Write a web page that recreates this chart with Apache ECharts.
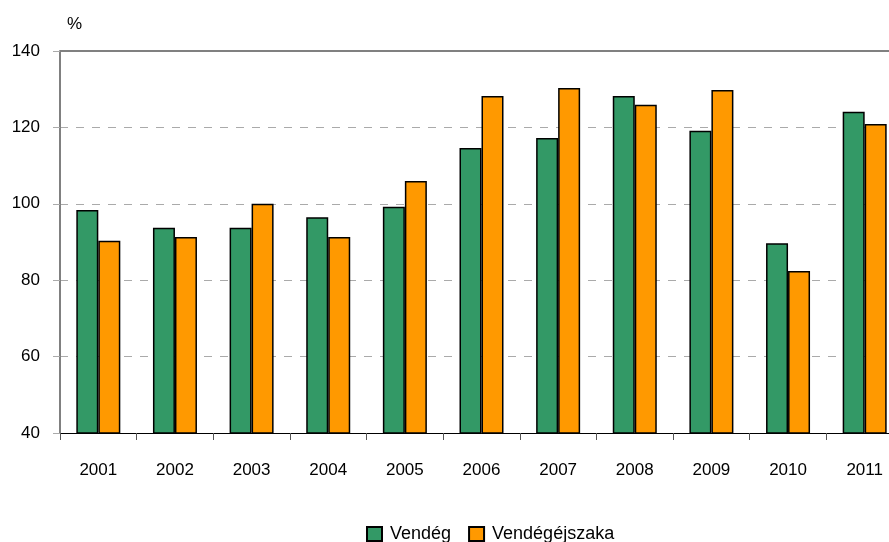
<!DOCTYPE html>
<html><head><meta charset="utf-8">
<script src="https://cdn.jsdelivr.net/npm/echarts@6/dist/echarts.min.js"></script>
<style>html,body{margin:0;padding:0;background:#fff;overflow:hidden}#c{width:903px;height:542px}</style>
</head><body><div id="c"></div>
<script>
var years = ['2001','2002','2003','2004','2005','2006','2007','2008','2009','2010','2011'];
var vendeg = [98.4, 93.7, 93.7, 96.5, 99.2, 114.6, 117.2, 128.2, 119.1, 89.7, 124.1];
var vendegejszaka = [90.3, 91.3, 100.0, 91.3, 106.0, 128.2, 130.3, 125.9, 129.8, 82.4, 120.9];
var yTicks = [40, 60, 80, 100, 120, 140];

var chart = echarts.init(document.getElementById('c'), null, {renderer:'canvas'});
var font = 'Liberation Sans, Arial, sans-serif';
chart.setOption({
  animation:false,
  grid:{left:60, top:51, right:0, bottom:109, containLabel:false},
  legend:{
    top:525, left:364, itemWidth:15, itemHeight:14, itemGap:17,
    icon:'rect', padding:[0,2],
    textStyle:{fontFamily:font, fontSize:18, color:'#000', padding:[0,0,0,3]},
    data:['Vendég','Vendégéjszaka']
  },
  xAxis:{
    type:'category', data:years,
    axisLine:{lineStyle:{color:'#000', width:1}},
    axisTick:{show:true, length:7, lineStyle:{color:'#555'}},
    axisLabel:{fontFamily:font, fontSize:17, color:'#000', margin:29}
  },
  yAxis:{
    type:'value', min:40, max:140, interval:20,
    name:'%', nameLocation:'end', nameGap:18,
    nameTextStyle:{fontFamily:font, fontSize:17, color:'#000', align:'left', padding:[0,0,0,7]},
    axisLine:{show:true, lineStyle:{color:'#808080', width:2}},
    axisTick:{show:true, length:7, lineStyle:{color:'#aaa'}},
    axisLabel:{fontFamily:font, fontSize:17, color:'#000', margin:20,
      formatter:function(v){return yTicks.indexOf(v)>=0? String(v):'';}},
    splitLine:{show:true, lineStyle:{color:'#aaa', type:[8,8], width:1}}
  },
  series:[
    {name:'Vendég', type:'bar', data:vendeg, barWidth:22, barGap:'0%',
     itemStyle:{color:'#339966', borderColor:'#000', borderWidth:1.5}},
    {name:'Vendégéjszaka', type:'bar', data:vendegejszaka, barWidth:22,
     itemStyle:{color:'#FF9900', borderColor:'#000', borderWidth:1.5},
     markLine:{silent:true, symbol:'none', label:{show:false},
       lineStyle:{color:'#808080', type:'solid', width:2}, data:[{yAxis:140}]}}
  ]
});
</script></body></html>
